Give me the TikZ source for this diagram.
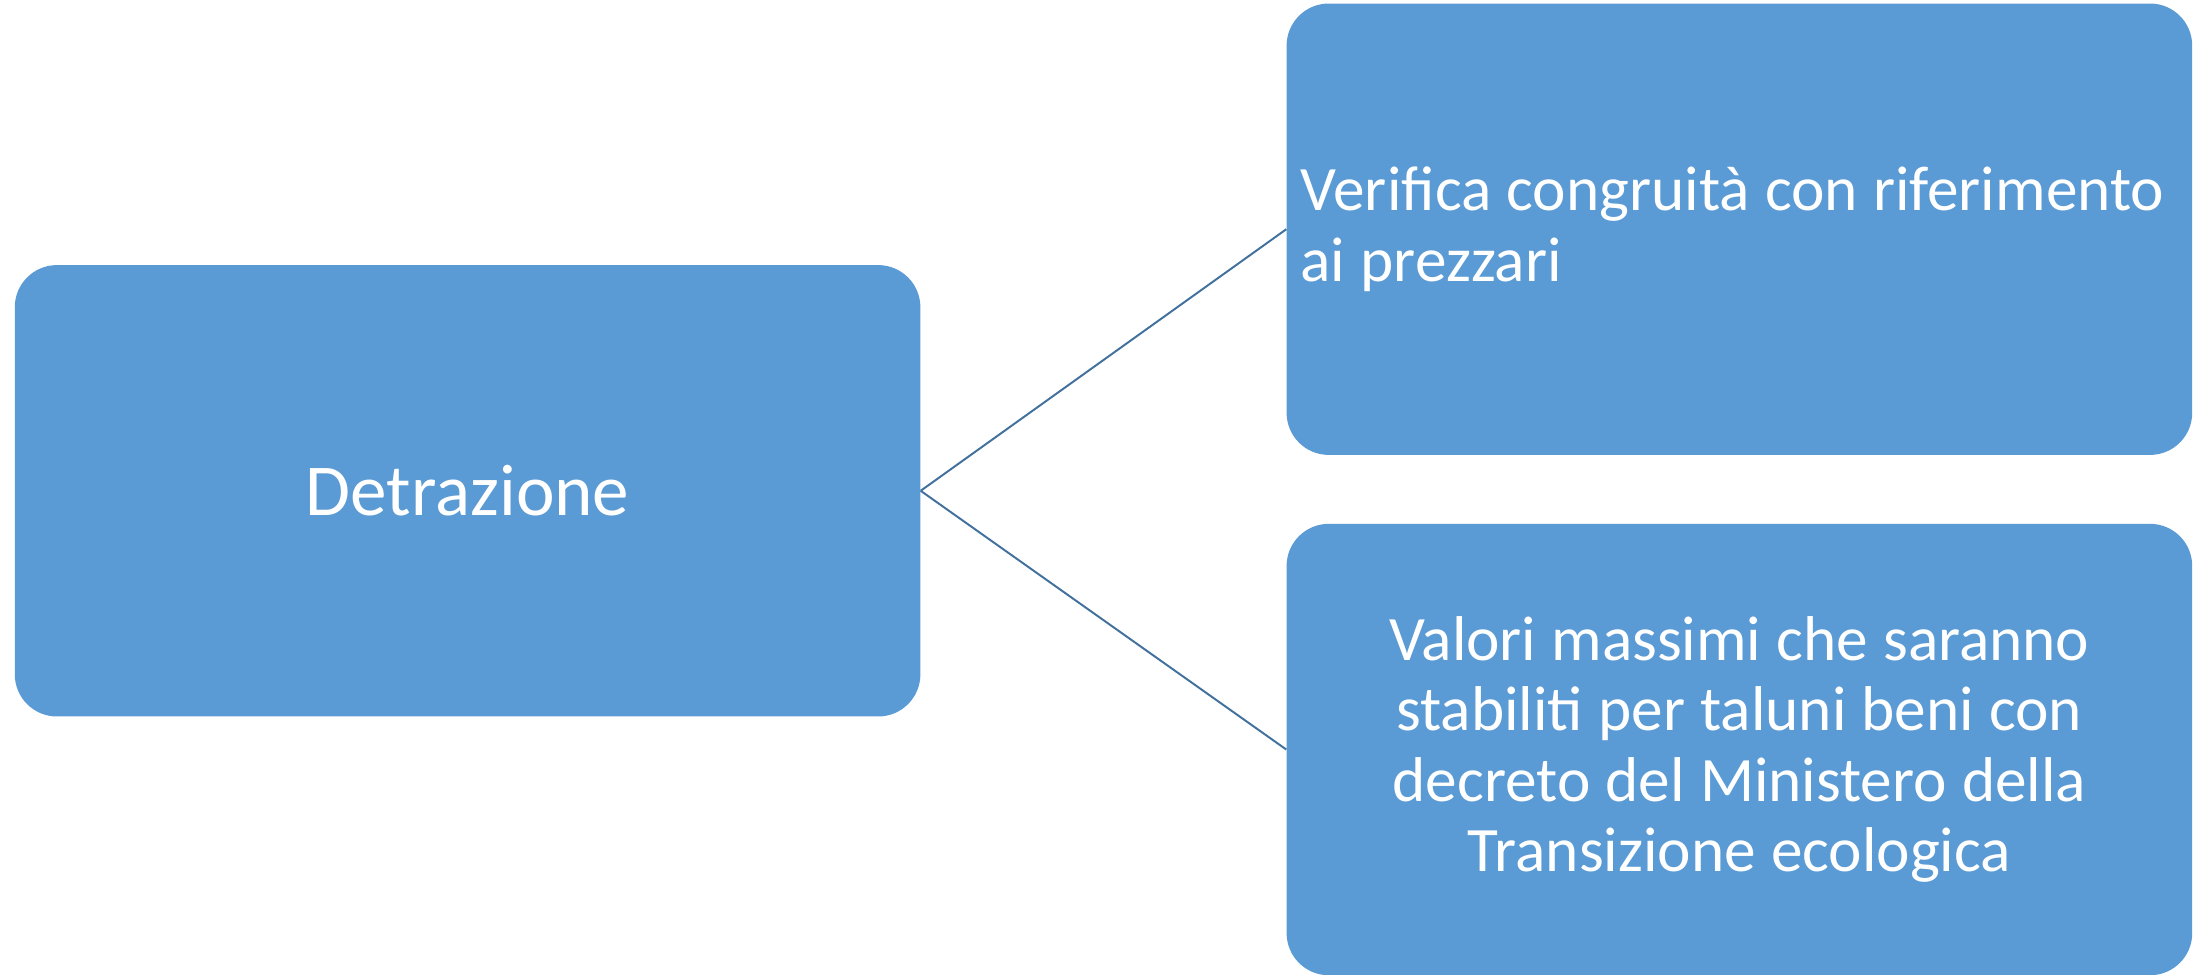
\documentclass[tikz,border=0pt]{standalone}
\usepackage{fontspec}
\setmainfont{Carlito}
\usetikzlibrary{positioning}
\definecolor{boxfill}{HTML}{5B9BD5}
\definecolor{linkline}{HTML}{41719C}
\newcommand\boxfont{\fontsize{45}{50}\selectfont\hyphenpenalty10000\relax}
\begin{document}
\begin{tikzpicture}[
  x=1pt, y=1pt,
  node distance=260pt,
  mybox/.style={fill=boxfill,rounded corners=30pt,minimum width=644pt,minimum height=321pt,
    inner xsep=10pt,text width=624pt,text=white,font=\boxfont,
    execute at begin node={\spaceskip=0.24em\relax}}
]
\useasboundingbox (0,0) rectangle (1568,-693.3);

\node[mybox,align=center,font=\fontsize{52}{56}\selectfont] (det) at (332.5,-349) {Detrazione};
\node[mybox,align=left,right=of det,yshift=186pt] (prezzi) {Verifica congruità con riferimento\\ai prezzari};
\node[mybox,align=center,right=of det,yshift=-184pt] (valori) {Valori massimi che saranno\\stabiliti per taluni beni con\\decreto del Ministero della\\Transizione ecologica};

\path (det.east) edge[linkline,line width=1.4pt] (prezzi.west)
(det.east) edge[linkline,line width=1.4pt] (valori.west);

\end{tikzpicture}
\end{document}
